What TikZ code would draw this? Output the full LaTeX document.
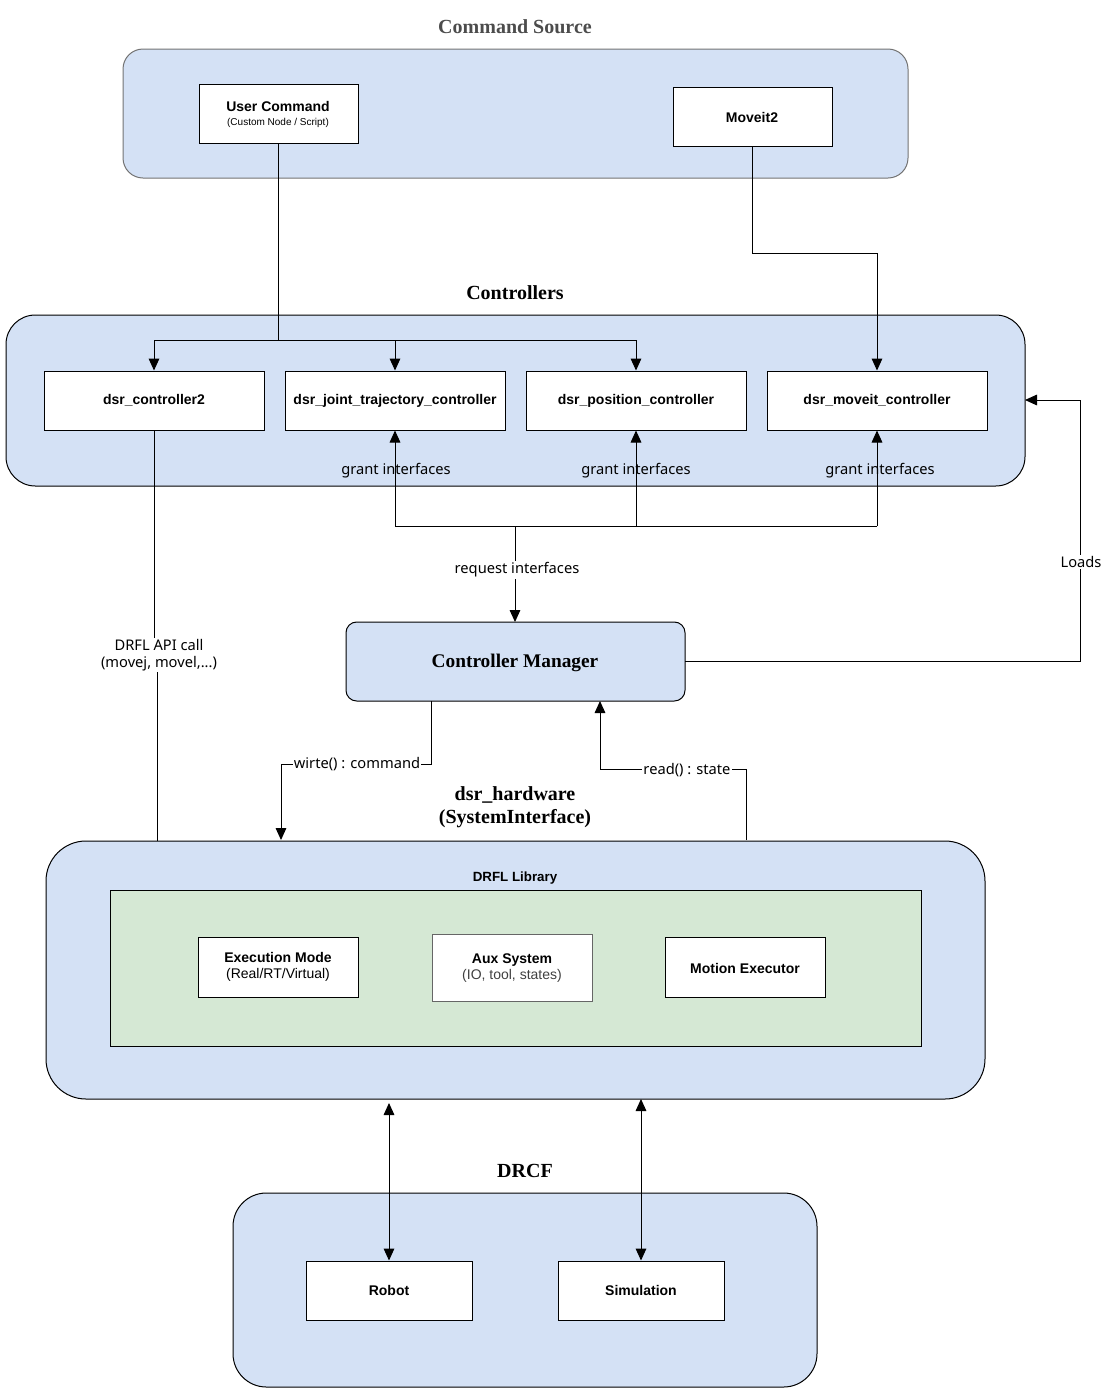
\documentclass[tikz,border=0pt]{standalone}
\usepackage{fontspec}
\setmainfont{Liberation Serif}
\newfontfamily\arial{Liberation Sans}
\newfontfamily\noto{Noto Sans}
\usetikzlibrary{arrows.meta}
\definecolor{cblue}{HTML}{D4E1F5}
\definecolor{cgreen}{HTML}{D5E8D4}
\begin{document}
\begin{tikzpicture}[x=0.75pt,y=-0.75pt,
  cont/.style={draw=black,fill=cblue,rounded corners=#1},
  box/.style={draw=black,fill=white},
  btxt/.style={font=\arial\bfseries\fontsize{10.5}{12}\selectfont,align=center},
  title/.style={font=\bfseries\fontsize{15}{17}\selectfont,align=center},
  lab/.style={font=\noto\bfseries\fontsize{11}{13}\selectfont,fill=white,inner sep=1pt,align=center},
  arr/.style={-{Triangle[length=9pt,width=8pt]}},
  darr/.style={{Triangle[length=9pt,width=8pt]}-{Triangle[length=9pt,width=8pt]}},
  line width=0.75pt]
\useasboundingbox (0,0) rectangle (1109,1393);
% Command source
\node[title,text=black!70] (t1) at (515,27) {Command Source};
\draw[cont=15pt,draw=black!55] (123,49) rectangle (908,178);
\draw[box] (199,84) rectangle (358,143);
\node[btxt] (uc) at (278,106) {User Command};
\node[font=\arial\fontsize{7.5}{9}\selectfont] (ucs) at (278,123) {(Custom Node / Script)};
\draw[box] (673,87) rectangle (832,146);
\node[btxt] (mv) at (752,117) {Moveit2};
% Controllers
\node[title] (t2) at (515,293) {Controllers};
\draw[cont=22pt] (6,315) rectangle (1025,486);
\node[box,btxt,minimum width=220*0.75pt,minimum height=59*0.75pt] (c1) at (154,400.5) {dsr\_controller2};
\node[box,btxt,minimum width=220*0.75pt,minimum height=59*0.75pt,inner sep=0pt] (c2) at (395,400.5) {dsr\_joint\_trajectory\_controller};
\node[box,btxt,minimum width=220*0.75pt,minimum height=59*0.75pt] (c3) at (636,400.5) {dsr\_position\_controller};
\node[box,btxt,minimum width=220*0.75pt,minimum height=59*0.75pt] (c4) at (877,400.5) {dsr\_moveit\_controller};
% user command fan
\coordinate (j0) at (278,340);
\draw (278,143) -- (j0);
\draw[arr] (j0) -| (c1.north);
\draw[arr] (j0) -| (c2.north);
\draw[arr] (j0) -| (c3.north);
\draw[arr] (752,146) |- (877,253) -- (c4.north);
% grant
\node[lab,fill=cblue] (g2) at (396,471) {grant interfaces};
\node[lab,fill=cblue] (g3) at (636,471) {grant interfaces};
\node[lab,fill=cblue] (g4) at (880,471) {grant interfaces};
\draw[arr] (395,526) -- (c2.south);
\draw[arr] (636,526) -- (c3.south);
\draw[arr] (877,526) -- (c4.south);
\draw (395,526) -- (877,526);
% controller manager
\draw[cont=8pt] (346,622) rectangle (685,701);
\node[title,font=\bfseries\fontsize{14.5}{17}\selectfont] (cm) at (515,663) {Controller Manager};
\draw[arr] (515,526) -- (515,622);
\node[lab] (ri) at (517,570) {request interfaces};
% loads
\draw[arr] (685,661) -| (1080,400) -- (1025,400);
\node[lab] (ld) at (1081,562) {Loads};
% DRFL API
\draw (154,430) -- (154,640);
\draw[arr] (157,672) -- (157,891);
\node[lab] (api) at (159,655) {DRFL API call\\(movej, movel,...)};
% write/read
\draw[arr] (431,701) |- (281,764) -- (281,840);
\node[lab] (wr) at (357,764) {wirte() : command};
\draw[arr] (746,840) |- (600,769) -- (600,701);
\node[lab] (rd) at (687,770) {read() : state};
% hardware
\node[title] (t3) at (515,807.5) {dsr\_hardware\\(SystemInterface)};
\draw[cont=30pt] (46,841) rectangle (985,1099);
\node[btxt,font=\arial\bfseries\fontsize{10}{12}\selectfont] (dl) at (515,878) {DRFL Library};
\draw[fill=cgreen] (110,890) rectangle (921,1046);
\draw[box] (198,937) rectangle (358,997);
\node[btxt] (em) at (278,967) {Execution Mode\\\mdseries(Real/RT/Virtual)};
\draw[box,draw=black!60] (432,934) rectangle (592,1001);
\node[btxt] (ax) at (512,968) {Aux System\\\mdseries\color{black!75}(IO, tool, states)};
\draw[box] (665,937) rectangle (825,997);
\node[btxt] (me) at (745,968) {Motion Executor};
% DRCF
\node[title] (t4) at (525,1171) {DRCF};
\draw[cont=25pt] (233,1193) rectangle (817,1387);
\node[box,btxt,minimum width=166*0.75pt,minimum height=59*0.75pt] (rb) at (389,1290.5) {Robot};
\node[box,btxt,minimum width=166*0.75pt,minimum height=59*0.75pt] (sm) at (641,1290.5) {Simulation};
\draw[darr] (389,1103) -- (rb.north);
\draw[darr] (641,1099) -- (sm.north);
\end{tikzpicture}
\end{document}
